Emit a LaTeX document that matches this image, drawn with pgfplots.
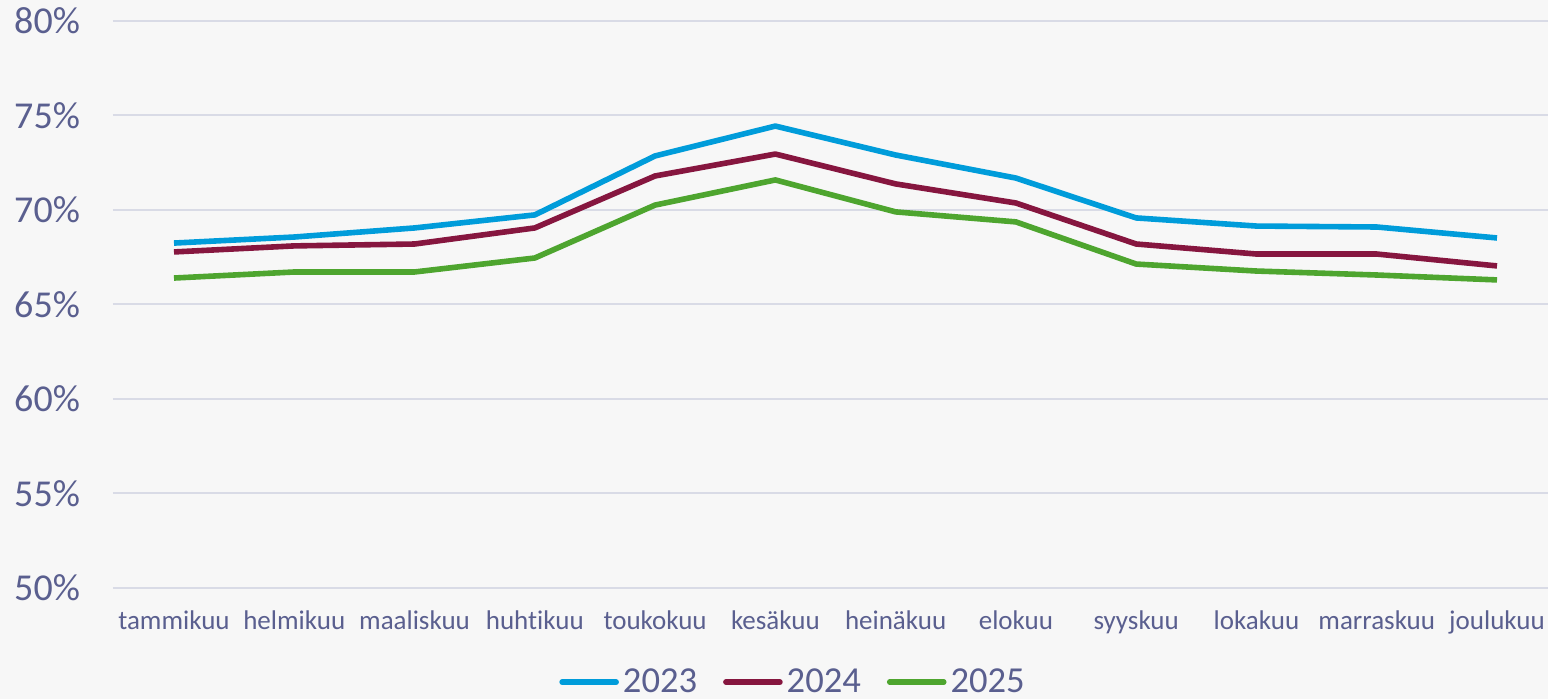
\documentclass[border=0pt]{standalone}
\usepackage{fontspec}
\setmainfont[Ligatures=NoCommon]{Carlito}
\usepackage{pgfplots}
\pgfplotsset{compat=1.18}
\usetikzlibrary{backgrounds}
\definecolor{c23}{HTML}{009CDA}
\definecolor{c24}{HTML}{86163F}
\definecolor{c25}{HTML}{4EA52F}
\definecolor{txt}{HTML}{5A5F8F}
\definecolor{grd}{HTML}{D9DBE6}
\definecolor{bg}{HTML}{F7F7F7}
\begin{document}
\begin{tikzpicture}
\begin{axis}[name=ax, scale only axis, width=717.5pt, height=283.5pt,
  xmin=-0.507, xmax=11.424, ymin=50, ymax=80,
  ytick={50,55,60,65,70,75,80},
  yticklabel={\pgfmathprintnumber{\tick}\%},
  /pgf/number format/assume math mode=true,
  xtick={0,1,2,3,4,5,6,7,8,9,10,11},
  xticklabels={tammikuu,helmikuu,maaliskuu,huht\kern0pt ikuu,toukokuu,kesäkuu,heinäkuu,elokuu,syyskuu,lokakuu,marraskuu,joulukuu},
  axis line style={draw=none}, major tick length=0pt,
  ymajorgrids, grid style={grd, line width=1pt},
  tick label style={text=txt},
  yticklabel style={font=\fontsize{19}{22}\selectfont, xshift=-13pt},
  xticklabel style={font=\fontsize{13.5}{16}\selectfont, yshift=-8pt},
  clip=false,
  legend columns=3,
  legend style={at={(axis description cs:0.4746,-0.166)}, anchor=center, draw=none, fill=none,
    font=\fontsize{18.3}{22}\selectfont, text=txt,
    /tikz/every even column/.append style={column sep=11pt},
    /tikz/every odd column/.append style={column sep=0pt}},
  legend image code/.code={\draw[#1, line cap=round] (0pt,0pt) -- (27pt,0pt);},
  every axis plot/.append style={line width=2.8pt, line join=round, mark=none},
]
\addplot[c23] coordinates {(0,68.25) (1,68.57) (2,69.05) (3,69.74) (4,72.86) (5,74.44) (6,72.91) (7,71.69) (8,69.58) (9,69.15) (10,69.10) (11,68.52)};
\addplot[c24] coordinates {(0,67.78) (1,68.10) (2,68.20) (3,69.05) (4,71.80) (5,72.96) (6,71.38) (7,70.37) (8,68.20) (9,67.67) (10,67.67) (11,67.04)};
\addplot[c25] coordinates {(0,66.40) (1,66.72) (2,66.72) (3,67.46) (4,70.26) (5,71.59) (6,69.90) (7,69.37) (8,67.14) (9,66.77) (10,66.56) (11,66.30)};
\legend{2023,2024,2025}
\end{axis}
\begin{scope}[on background layer]
\fill[bg] ([shift={(-56.5pt,-55.5pt)}]ax.south west) rectangle ([shift={(0pt,10.5pt)}]ax.north east);
\end{scope}
\pgfresetboundingbox
\path[use as bounding box] ([shift={(-56.5pt,-55.5pt)}]ax.south west) rectangle ([shift={(0pt,10.5pt)}]ax.north east);
\end{tikzpicture}
\end{document}
